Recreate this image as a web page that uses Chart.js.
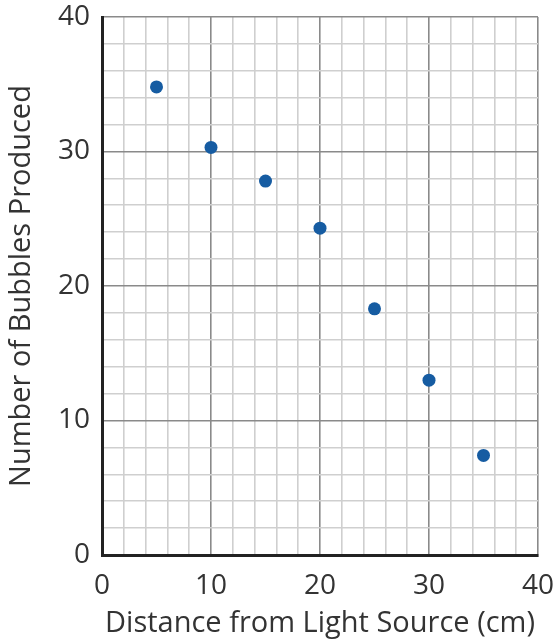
<!DOCTYPE html>
<html>
<head>
<meta charset="utf-8">
<script src="https://cdn.jsdelivr.net/npm/chart.js@4.4.0/dist/chart.umd.min.js"></script>
<style>
  html, body { margin: 0; padding: 0; background: #fff; }
  #wrap { width: 557px; height: 642px; position: relative; }
</style>
</head>
<body>
<div id="wrap"><canvas id="c"></canvas></div>
<script>
// Data
const distances = [5, 10, 15, 20, 25, 30, 35];          // cm
const bubbles   = [34.8, 30.3, 27.8, 24.3, 18.3, 13.0, 7.4];
const xLabelValues = [0, 10, 20, 30, 40];
const yLabelValues = [0, 10, 20, 30, 40];
const xTitle = 'Distance from Light Source (cm)';
const yTitle = 'Number of Bubbles Produced';

const points = distances.map((d, i) => ({ x: d, y: bubbles[i] }));

const FONT = "'Open Sans', 'Noto Sans', sans-serif";
const TEXT = '#333333';
const MAJOR = '#8a8a8a';
const MINOR = '#cfcfcf';

function gridColor(ctx) {
  const v = ctx.tick ? ctx.tick.value : 0;
  return (Math.round(v) % 10 === 0) ? MAJOR : MINOR;
}
function labelFor(list) {
  return v => (list.includes(Math.round(v)) && Math.abs(v - Math.round(v)) < 1e-6) ? String(Math.round(v)) : '';
}

new Chart(document.getElementById('c'), {
  type: 'scatter',
  data: {
    datasets: [{
      data: points,
      backgroundColor: '#165ca2',
      borderColor: '#165ca2',
      pointRadius: 6.5,
      pointHoverRadius: 6.5,
      borderWidth: 0
    }]
  },
  options: {
    responsive: true,
    maintainAspectRatio: false,
    animation: false,
    events: [],
    layout: { padding: { top: 17, right: 19, left: 0, bottom: 0 } },
    plugins: { legend: { display: false }, tooltip: { enabled: false } },
    scales: {
      x: {
        type: 'linear',
        min: 0, max: 40,
        afterFit: s => { s.height = 87; s.paddingLeft = 0; s.paddingRight = 0; },
        border: { display: true, color: '#222', width: 3, z: 1 },
        grid: { color: gridColor, lineWidth: 1.6, drawTicks: false },
        ticks: {
          stepSize: 2,
          autoSkip: false,
          maxRotation: 0,
          padding: 14,
          color: TEXT,
          font: { family: FONT, size: 28 },
          callback: labelFor(xLabelValues)
        },
        title: {
          display: true,
          text: xTitle,
          color: TEXT,
          font: { family: FONT, size: 29 },
          padding: { top: 0, bottom: 1 }
        }
      },
      y: {
        type: 'linear',
        min: 0, max: 40,
        afterFit: s => { s.width = 102; s.paddingTop = 0; s.paddingBottom = 0; },
        border: { display: true, color: '#222', width: 3, z: 1 },
        grid: { color: gridColor, lineWidth: 1.6, drawTicks: false },
        ticks: {
          stepSize: 2,
          autoSkip: false,
          padding: 12,
          color: TEXT,
          font: { family: FONT, size: 28 },
          callback: labelFor(yLabelValues)
        },
        title: {
          display: true,
          text: yTitle,
          color: TEXT,
          font: { family: FONT, size: 29 },
          padding: { top: 4, bottom: 0 }
        }
      }
    }
  }
});
</script>
</body>
</html>
